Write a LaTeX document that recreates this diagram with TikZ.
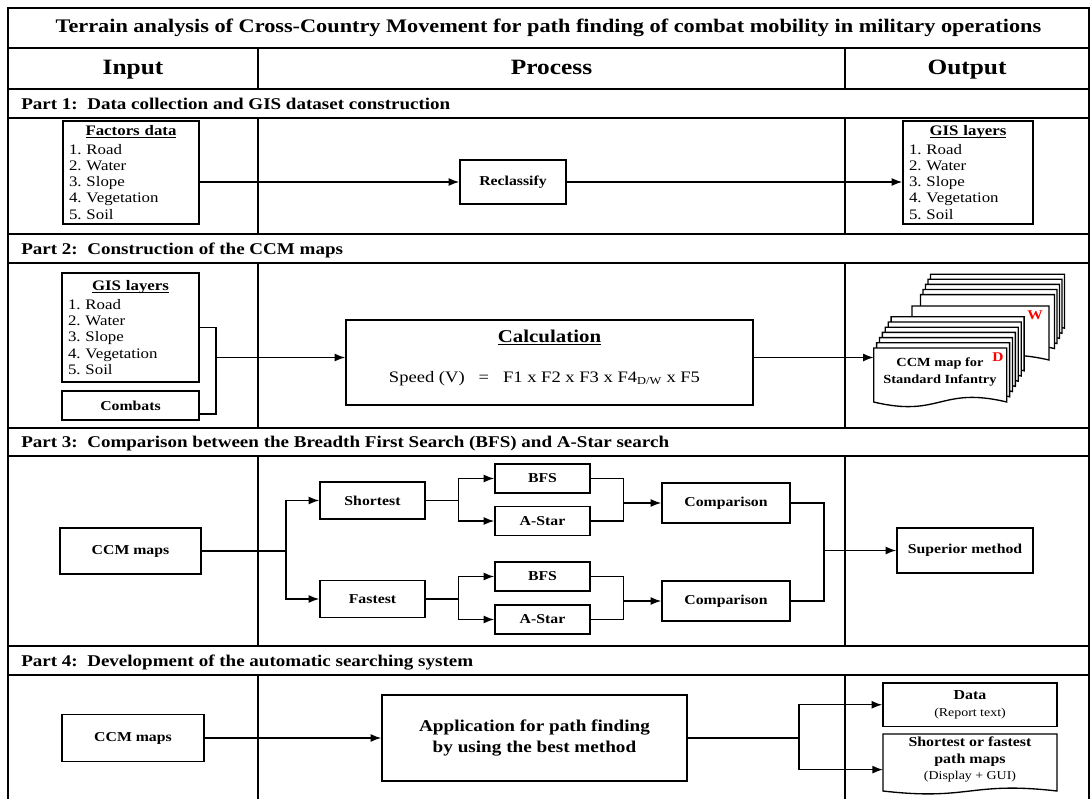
\documentclass[tikz,border=0pt]{standalone}
\usepackage{fontspec}
\setmainfont{Liberation Serif}[FakeStretch=1.16]
\usetikzlibrary{arrows.meta,calc}
\newcommand\fTitle{\fontsize{14.4}{17}\selectfont\bfseries}
\newcommand\fHead{\fontsize{16.4}{19}\selectfont\bfseries}
\newcommand\fPart{\fontsize{12.3}{14}\selectfont\bfseries}
\newcommand\fList{\fontsize{10.9}{12.2}\selectfont}
\newcommand\fBox{\fontsize{10.2}{12}\selectfont\bfseries}
\newcommand\fCalc{\fontsize{13.5}{16}\selectfont\bfseries}
\newcommand\fSpeed{\fontsize{12}{14}\selectfont}
\newcommand\fApp{\fontsize{12.4}{15.75}\selectfont\bfseries}
\newcommand\fDoc{\fontsize{9.3}{12.2}\selectfont\bfseries}
\newcommand\fRed{\fontsize{10}{12}\selectfont\bfseries}
\newcommand\fBoxB{\fontsize{10.3}{12.75}\selectfont\bfseries}
\newcommand\fSmall{\fontsize{9}{12.75}\selectfont}
\newcommand\ulhead[1]{\underline{\raisebox{0pt}[\height][0pt]{\textbf{#1}}}}
\newcommand\docshape[5]{%
  \filldraw[docst] (#1,#2) -- ({#1+#3},#2) -- ({#1+#3},{#2+#4})
    .. controls ({#1+#3/2},{#2+#4-2*#5}) and ({#1+#3/2},{#2+#4+2*#5}) .. (#1,{#2+#4}) -- cycle;}
\begin{document}
\frenchspacing
\begin{tikzpicture}[x=0.75pt,y=-0.75pt,
  tbl/.style={line width=1.4pt},
  bx/.style={draw, line width=1.1pt, fill=white, inner sep=0pt, align=center},
  mw/.style={minimum width=#1*0.75pt},
  mh/.style={minimum height=#1*0.75pt},
  conn/.style={line width=1.1pt},
  arr/.style={conn, -{Latex[length=8pt,width=6pt]}},
  docst/.style={draw, fill=white, line width=1pt, line join=miter},
  lbl/.style={inner sep=0pt},
  lst/.style={bx, align=left, inner xsep=4.5pt, font=\fList, text width=#1*0.75pt-9pt}
  ]
\useasboundingbox (0,0) rectangle (1092,799);
% ---------- table ----------
\draw[tbl] (8,799) -- (8,8) -- (1089,8) -- (1089,799);
\foreach \yy in {48,89,118,234,263,428,456,646,675}
  \draw[tbl] (8,\yy) -- (1089,\yy);
\foreach \xx in {258,845} {
  \draw[tbl] (\xx,48) -- (\xx,89);
  \draw[tbl] (\xx,118) -- (\xx,234);
  \draw[tbl] (\xx,263) -- (\xx,428);
  \draw[tbl] (\xx,456) -- (\xx,646);
  \draw[tbl] (\xx,675) -- (\xx,799);
}
% ---------- titles ----------
\node[lbl, font=\fTitle, anchor=base] (title) at (548.5,33) {Terrain analysis of Cross-Country Movement for path finding of combat mobility in military operations};
\node[lbl, font=\fHead, anchor=base] (hin) at (133,74.5) {Input};
\node[lbl, font=\fHead, anchor=base] (hpr) at (551.5,74.5) {Process};
\node[lbl, font=\fHead, anchor=base] (hout) at (967,74.5) {Output};
\node[lbl, font=\fPart, anchor=base west] (p1) at (21,109) {Part 1:~~Data collection and GIS dataset construction};
\node[lbl, font=\fPart, anchor=base west] (p2) at (21,254) {Part 2:~~Construction of the CCM maps};
\node[lbl, font=\fPart, anchor=base west] (p3) at (21,447.5) {Part 3:~~Comparison between the Breadth First Search (BFS) and A-Star search};
\node[lbl, font=\fPart, anchor=base west] (p4) at (21,666) {Part 4:~~Development of the automatic searching system};
% ---------- part 1 ----------
\node[lst=136, mh=103] (fac) at (131,172.5)
  {\hfill\ulhead{Factors data}\hfill\null\\[1.5pt]1. Road\\2. Water\\3. Slope\\4. Vegetation\\5. Soil};
\node[bx, mw=106, mh=44, font=\fBox] (recl) at (513,182) {Reclassify};
\node[lst=130, mh=103] (gis1) at (968,172.5)
  {\hfill\ulhead{GIS layers}\hfill\null\\[1.5pt]1. Road\\2. Water\\3. Slope\\4. Vegetation\\5. Soil};
\draw[arr] (fac.east |- recl.west) -- (recl.west);
\draw[arr] (recl.east) -- (recl.east -| gis1.west);
% ---------- part 2 ----------
\node[lst=137, mh=109] (gis2) at (130.5,327.5)
  {\hfill\ulhead{GIS layers}\hfill\null\\[2pt]1. Road\\2. Water\\3. Slope\\4. Vegetation\\5. Soil};
\node[bx, mw=137, mh=29, font=\fBox] (comb) at (130.5,405.5) {Combats};
\coordinate (bk) at (216,357.5);
\draw[conn] (gis2.east) -| (bk);
\draw[conn] ($(comb.east)+(0,8.5)$) -| (bk);
\node[bx, mw=407, mh=85] (calc) at (549.5,362.5) {};
\node[lbl, font=\fCalc] (calct) at (549.5,337.5) {\underline{Calculation}};
\node[lbl, font=\fSpeed] (speed) at (544.5,378.6) {Speed (V)~~~=~~~F1 x F2 x F3 x F4\textsubscript{D/W} x F5};
\draw[arr] (bk) -- (bk -| calc.west);
\coordinate (dk) at (873.7,357.5);
\draw[arr] (calc.east |- dk) -- (dk);
% document stack
\foreach \i in {5,4,3,2,1} { \docshape{918+2.5*\i}{299.7-5.1*\i}{134}{54}{8} }
\docshape{912}{306}{137}{54}{8}
\foreach \i in {6,5,4,3,2,1} { \docshape{873.7+2.9*\i}{348-5.2*\i}{133}{54}{8} }
\docshape{873.7}{348}{133}{54}{8}
\node[lbl, font=\fDoc, align=center] (ccmdoc) at (940,372) {CCM map for\\Standard Infantry};
\node[lbl, font=\fRed, text=red] (dl) at (998,357) {D};
\node[lbl, font=\fRed, text=red] (wl) at (1035,315) {W};
% ---------- part 3 ----------
\node[bx, mw=141, mh=46, font=\fBox] (ccm3) at (130.5,551) {CCM maps};
\node[bx, mw=105, mh=37, font=\fBox] (short) at (372.5,500.5) {Shortest};
\node[bx, mw=105, mh=37, font=\fBox] (fast) at (372.5,599) {Fastest};
\node[bx, mw=95, mh=29, font=\fBox] (bfs1) at (542.5,478.5) {BFS};
\node[bx, mw=95, mh=29, font=\fBox] (ast1) at (542.5,521) {A-Star};
\node[bx, mw=95, mh=29, font=\fBox] (bfs2) at (542.5,576.5) {BFS};
\node[bx, mw=95, mh=29, font=\fBox] (ast2) at (542.5,619.5) {A-Star};
\node[bx, mw=128, mh=40, font=\fBox] (comp1) at (726,503) {Comparison};
\node[bx, mw=128, mh=40, font=\fBox] (comp2) at (726,601) {Comparison};
\node[bx, mw=136, mh=45, font=\fBox] (sup) at (965,550.5) {Superior method};
\coordinate (s1) at (286,551);
\coordinate (j1) at (458.5,500.5);
\coordinate (j2) at (458.5,599);
\coordinate (m1) at (623.5,503);
\coordinate (m2) at (623.5,601);
\coordinate (m3) at (824,550.5);
\draw[conn] (ccm3.east) -- (s1);
\draw[arr] (s1) |- (short.west);
\draw[arr] (s1) |- (fast.west);
\draw[conn] (short.east) -- (j1);
\draw[arr] (j1) |- (bfs1.west);
\draw[arr] (j1) |- (ast1.west);
\draw[conn] (fast.east) -- (j2);
\draw[arr] (j2) |- (bfs2.west);
\draw[arr] (j2) |- (ast2.west);
\draw[conn] (bfs1.east) -| (m1);
\draw[conn] (ast1.east) -| (m1);
\draw[arr] (m1) -- (comp1.west);
\draw[conn] (bfs2.east) -| (m2);
\draw[conn] (ast2.east) -| (m2);
\draw[arr] (m2) -- (comp2.west);
\draw[conn] (comp1.east) -| (m3);
\draw[conn] (comp2.east) -| (m3);
\draw[arr] (m3) -- (sup.west);
% ---------- part 4 ----------
\node[bx, mw=142, mh=47.5, font=\fBox] (ccm4) at (133,738) {CCM maps};
\node[bx, mw=305, mh=86, font=\fApp] (app) at (534.5,738) {Application for path finding\\by using the best method};
\node[bx, mw=174, mh=43.5, font=\fontsize{10}{13.4}\selectfont] (data) at (970,704.75) {{\fBoxB Data}\\{\fSmall (Report text)}};
\docshape{883}{734}{174}{57}{5}
\node[lbl, align=center, font=\fontsize{10.3}{12.6}\selectfont] (pmt) at (970,759.5) {{\fBoxB Shortest or fastest}\\{\fBoxB path maps}\\{\fSmall (Display + GUI)}};
\coordinate (k) at (799,738);
\coordinate (pm) at (883,769.6);
\draw[arr] (ccm4.east) -- (app.west);
\draw[conn] (app.east) -- (k);
\draw[arr] (k) |- (data.west);
\draw[arr] (k) |- (pm);
\end{tikzpicture}
\end{document}
